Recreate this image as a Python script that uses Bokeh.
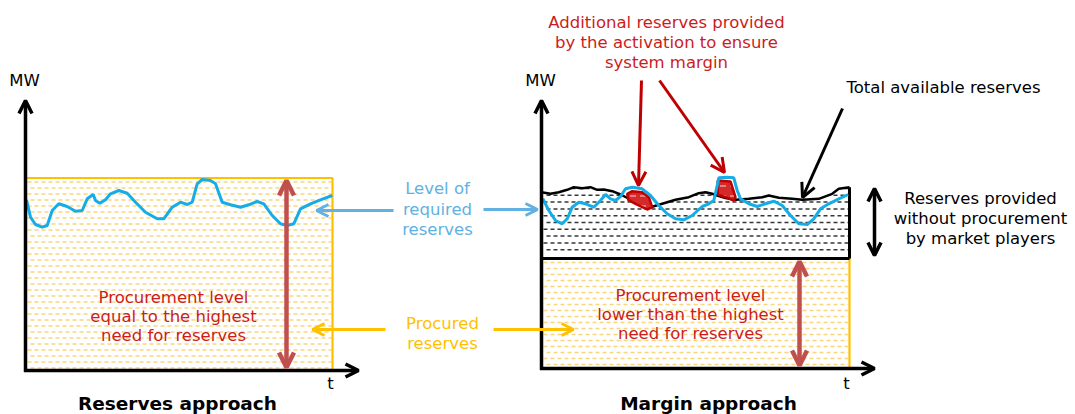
import numpy as np
from bokeh.plotting import figure
from bokeh.models import Range1d, Arrow, OpenHead
from bokeh.core.properties import value
from bokeh.embed import file_html
from bokeh.resources import INLINE

# ---------------- data (schematic units: t to the right, MW downward-screen scale) ----------------
# Left panel: level of required reserves
left_t = [26, 30, 35, 41.7, 46.7, 51.7, 58.3, 66.7, 75, 81.7, 86.7, 92.7, 95, 99.3, 105, 110, 118.3,
          126.7, 135, 145, 156.7, 163.3, 171.7, 180, 186.7, 191.7, 196.7, 201.7, 210, 215, 221.7, 230,
          240, 248.3, 256.7, 263.3, 271.7, 280, 286.7, 293.3, 300, 310, 320, 331.7]
left_need = [199.3, 216.7, 224, 226.7, 225, 210, 203.3, 206, 210.7, 210, 198.3, 194, 200, 202.7, 199.3,
             193.3, 190, 192.7, 201.7, 211.7, 218.3, 218.3, 206.7, 201.7, 204, 201.7, 183.3, 179, 180,
             183.3, 201.7, 204.3, 206.7, 204.3, 201, 203.3, 215, 223.3, 225, 223.3, 208.3, 203.3, 199.3, 195]

# Right panel: level of required reserves
right_t = [542.3, 548.3, 555, 561.7, 566.7, 571.7, 578.3, 585, 593.3, 600, 605, 610, 615, 620, 625,
           631.7, 641.7, 650, 658.3, 666.7, 675, 683.3, 691.7, 701.7, 708.3, 713.3, 716.7, 718.3, 726.7,
           733.3, 736.7, 740, 748.3, 756.7, 765, 773.3, 781.7, 790, 798.3, 806.7, 813.3, 820, 828.3,
           838.3, 847.7]
right_need = [198.3, 210, 220, 223.3, 218.3, 206.7, 201.7, 203.3, 206.7, 200, 194, 198.3, 200, 196, 188.3,
              186.7, 188.3, 195, 205, 213.3, 218.3, 219.3, 215, 206, 203.3, 200, 185, 177.3, 176.7,
              177.3, 190, 198.3, 203.3, 206, 203.3, 200.7, 205, 215, 223.3, 224, 218.3, 208.3, 203.3,
              198.3, 194]

# Right panel: total available reserves (top of the market-provided band)
avail_t = [541, 550, 558.3, 566.7, 573.3, 581.7, 590, 596.7, 603.3, 611.7, 620, 630, 640, 648.3,
           661.7, 675, 688.3, 698.3, 705, 711.7, 716.7, 725, 735, 748.3, 761.7, 768.3, 778.3, 791.7,
           801.7, 818.3, 831.7, 838.3, 849]
avail_level = [191.7, 193.3, 191.7, 189.3, 186.7, 187.7, 186.7, 189.3, 189, 190.7, 194, 199, 204, 207.3,
               203.3, 199.3, 196.7, 192.7, 191.7, 193.3, 195, 197.5, 199.3, 198.3, 196.7, 195, 197.3,
               198.3, 199.3, 198.3, 193.3, 188.3, 186.7]

# Additional reserves from activation (two red areas)
blob1_t = [626.7, 631.7, 641.7, 648.3, 651.7, 646.7, 635, 627.7]
blob1_mw = [193.3, 190.7, 191.7, 196.7, 206.7, 209, 203.3, 199.3]
blob2_t = [717.3, 730, 735, 733.3, 725, 717.3]
blob2_mw = [180, 181, 196.7, 200, 196.7, 194]

# Panel frames
panel_left = [25, 541]
panel_right = [332, 849]
axis_zero = [370, 368]
axis_top = [100, 100]
axis_end = [358, 874]
procured_level = [177.5, 258]

BLUE = "#14ade8"
BLUE_LIGHT = "#62b1e2"
ORANGE = "#ffc000"
HATCH_OR = "#f7c74f"
RED_TXT = "#cc1c1c"
RED_ARR = "#c0504d"
DARK_RED = "#c00000"
FONT = value("DejaVu Sans")

p = figure(width=1075, height=414, x_range=Range1d(0, 1075), y_range=Range1d(414, 0),
           output_backend="svg", toolbar_location=None, min_border=0,
           x_axis_location=None, y_axis_location=None, outline_line_color=None,
           background_fill_color="white", border_fill_color="white")
p.grid.visible = False


def dash_rows(x0, x1, y_from, y_to, step, color, alpha, width):
    rows = np.arange(y_from, y_to, step)
    for k, off in ((0, 0), (1, 4)):
        ys = rows[k::2]
        p.segment(x0=[x0] * len(ys), y0=ys, x1=[x1] * len(ys), y1=ys, line_color=color,
                  line_alpha=alpha, line_width=width, line_dash="4 3", line_dash_offset=off)


# ---------------- procured (orange hatched) areas ----------------
for i in range(2):
    dash_rows(panel_left[i] + 2, panel_right[i] - 1, procured_level[i] + 4, axis_zero[i] - 1, 6.0,
              HATCH_OR, 0.75, 1.6)
    p.quad(left=[panel_left[i]], right=[panel_right[i]], top=[procured_level[i]], bottom=[axis_zero[i]],
           fill_color=None, line_color=ORANGE, line_width=2.2)

# ---------------- market-provided band (black hatched) ----------------
dash_rows(panel_left[1] + 2, panel_right[1] - 1, 188, procured_level[1] - 2, 6.8, "#222222", 0.9, 1.5)
# blank out the hatch above the total-available line
p.varea(x=avail_t, y1=[176] * len(avail_t), y2=avail_level, fill_color="white")
p.line(avail_t, avail_level, line_color="black", line_width=2.5)
p.segment(x0=[panel_left[1], panel_right[1]], y0=[procured_level[1], avail_level[-1]],
          x1=[panel_right[1], panel_right[1]], y1=[procured_level[1], procured_level[1]],
          line_color="black", line_width=3)

# additional reserves blobs
for bt, bm in ((blob1_t, blob1_mw), (blob2_t, blob2_mw)):
    p.patch(bt, bm, fill_color="#d42a2a", line_color=DARK_RED, line_width=2.5,
            hatch_pattern='"', hatch_color="white", hatch_alpha=0.8, hatch_scale=10)

# ---------------- required reserve curves ----------------
p.line(left_t, left_need, line_color=BLUE, line_width=3)
p.line(right_t, right_need, line_color=BLUE, line_width=3)

# ---------------- axes ----------------
for i in range(2):
    p.add_layout(Arrow(end=OpenHead(size=13, line_width=3.5, line_color="black"),
                       x_start=panel_left[i], y_start=axis_zero[i] + 1.5,
                       x_end=panel_left[i], y_end=axis_top[i], line_width=3.5, line_color="black"))
    p.add_layout(Arrow(end=OpenHead(size=13, line_width=3.5, line_color="black"),
                       x_start=panel_left[i] - 1.5, y_start=axis_zero[i],
                       x_end=axis_end[i], y_end=axis_zero[i], line_width=3.5, line_color="black"))

# red double arrows (procurement level)
p.add_layout(Arrow(start=OpenHead(size=15, line_width=4.5, line_color=RED_ARR),
                   end=OpenHead(size=15, line_width=4.5, line_color=RED_ARR),
                   x_start=286, y_start=367, x_end=286, y_end=180, line_width=4.5, line_color=RED_ARR))
p.add_layout(Arrow(start=OpenHead(size=15, line_width=4.5, line_color=RED_ARR),
                   end=OpenHead(size=15, line_width=4.5, line_color=RED_ARR),
                   x_start=799, y_start=365, x_end=799, y_end=261, line_width=4.5, line_color=RED_ARR))

# black double arrow (reserves without procurement)
p.add_layout(Arrow(start=OpenHead(size=13, line_width=3.5, line_color="black"),
                   end=OpenHead(size=13, line_width=3.5, line_color="black"),
                   x_start=874, y_start=255, x_end=874, y_end=188, line_width=3.5, line_color="black"))

# pointer arrows
def pointer(x0, y0, x1, y1, color, size=12, lw=3):
    p.add_layout(Arrow(end=OpenHead(size=size, line_width=lw, line_color=color),
                       x_start=x0, y_start=y0, x_end=x1, y_end=y1, line_width=lw, line_color=color))

pointer(393, 210, 316, 210, BLUE_LIGHT)
pointer(483, 209, 537, 209, BLUE_LIGHT)
pointer(385, 329, 312, 329, ORANGE)
pointer(493, 329, 573, 329, ORANGE)
pointer(641, 80, 638, 185, DARK_RED, size=14)
pointer(659, 80, 724, 172, DARK_RED, size=14)
pointer(842, 108, 802, 197, "black", size=14)

# ---------------- texts ----------------
def txt(x, y, lines, color, size="16.5px", style="normal", dy=20):
    ys = [y + k * dy for k in range(len(lines))]
    p.text(x=[x] * len(lines), y=ys, text=lines, text_font=FONT, text_font_size=size,
           text_color=color, text_align="center", text_baseline="middle", text_font_style=style)

txt(24, 80, ["MW"], "black")
txt(540, 80, ["MW"], "black")
txt(330, 383, ["t"], "black")
txt(846, 383, ["t"], "black")
txt(173, 297, ["Procurement level", "equal to the highest", "need for reserves"], RED_TXT, dy=19)
txt(690, 295, ["Procurement level", "lower than the highest", "need for reserves"], RED_TXT, dy=19)
txt(437, 188, ["Level of", "required", "reserves"], BLUE_LIGHT, dy=20.5)
txt(442, 323, ["Procured", "reserves"], ORANGE, dy=20)
txt(666, 22, ["Additional reserves provided", "by the activation to ensure", "system margin"], RED_TXT, dy=20)
txt(943, 87, ["Total available reserves"], "black")
txt(980, 198, ["Reserves provided", "without procurement", "by market players"], "black", dy=20)
txt(177, 403, ["Reserves approach"], "black", size="18.5px", style="bold")
txt(708, 403, ["Margin approach"], "black", size="18.5px", style="bold")

open("out.html", "w").write(file_html(p, INLINE))
